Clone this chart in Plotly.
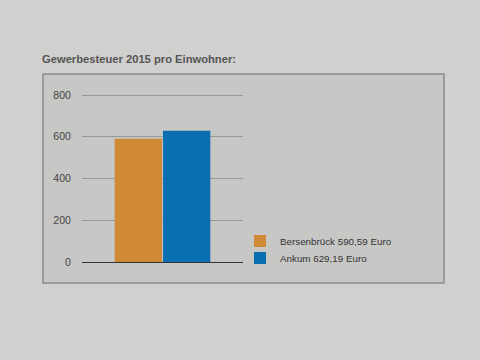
import plotly.graph_objects as go

categories = ["2015"]
names = ["Bersenbrück 590,59 Euro", "Ankum 629,19 Euro"]
values = [590.59, 629.19]
colors = ["#d08a35", "#0a6fb0"]
tick_vals = [0, 200, 400, 600, 800]

W, H = 480, 360
L, R, T, B = 82, 237, 93, 98
pw, ph = W - L - R, H - T - B

def px(x):
    return (x - L) / pw

def py(y):
    return (H - B - y) / ph

legend_ids = ["legend", "legend2"]
legend_rows = [241, 258]

fig = go.Figure()
for n, v, c, lg in zip(names, values, colors, legend_ids):
    fig.add_trace(go.Bar(x=categories, y=[v], name=n, legend=lg,
                         marker=dict(color=c, line=dict(width=0))))

fig.add_shape(type="rect", xref="paper", yref="paper",
              x0=px(43), x1=px(444), y0=py(283), y1=py(74),
              fillcolor="#c7c7c5", line=dict(color="#8a8a8a", width=1.5), layer="below")

legend_common = dict(xanchor="left", yanchor="middle", bgcolor="rgba(0,0,0,0)",
                     font=dict(size=9.8, color="#333333"), itemwidth=30)

fig.update_layout(
    width=W, height=H,
    margin=dict(l=L, r=R, t=T, b=B, pad=0),
    paper_bgcolor="#d0d0ce",
    plot_bgcolor="rgba(0,0,0,0)",
    font=dict(family="Liberation Sans, Arial, sans-serif", color="#444444", size=11),
    barmode="group", bargap=0.4, bargroupgap=0.02,
    showlegend=True,
    legend=dict(x=px(240), y=py(legend_rows[0]), **legend_common),
    legend2=dict(x=px(240), y=py(legend_rows[1]), **legend_common),
    title=dict(text="<b>Gewerbesteuer 2015 pro Einwohner:</b>", x=42 / W, xanchor="left",
               xref="container", y=1 - 55 / H, yanchor="top", yref="container",
               font=dict(size=11.2, color="#555555")),
    xaxis=dict(showticklabels=False, showgrid=False, zeroline=False, showline=False, ticks=""),
    yaxis=dict(range=[0, 810], tickvals=tick_vals, showgrid=True, gridcolor="#9a9a9a",
               gridwidth=1, zeroline=True, zerolinecolor="#333333", zerolinewidth=1,
               ticks="outside", ticklen=8, tickcolor="rgba(0,0,0,0)",
               tickfont=dict(size=10.5, color="#444444"), showline=False),
)

fig.write_html("out.html", config={"displayModeBar": False},
               post_script="document.body.style.margin='0';")
